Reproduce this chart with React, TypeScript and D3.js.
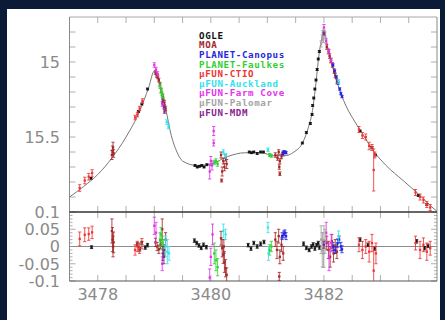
import React from "react";
import * as d3 from "d3";

// Light-curve model (HJD - 2450000, I mag)
const MODEL: [number, number][] = [
  [3477.5, 15.9], [3477.75, 15.83], [3478.0, 15.75], [3478.25, 15.64], [3478.5, 15.5],
  [3478.75, 15.32], [3478.9, 15.17], [3479.0, 15.06], [3479.1, 15.15], [3479.2, 15.31],
  [3479.3, 15.49], [3479.4, 15.6], [3479.5, 15.66], [3479.75, 15.69], [3480.0, 15.68],
  [3480.3, 15.63], [3480.6, 15.605], [3480.9, 15.605], [3481.1, 15.625], [3481.3, 15.625],
  [3481.47, 15.6], [3481.62, 15.54], [3481.73, 15.43], [3481.79, 15.34], [3481.85, 15.17],
  [3481.91, 14.96], [3481.97, 14.83], [3482.0, 14.79], [3482.06, 14.89], [3482.12, 14.98],
  [3482.17, 15.05], [3482.23, 15.13], [3482.3, 15.21], [3482.4, 15.3], [3482.55, 15.4],
  [3482.7, 15.49], [3482.85, 15.58], [3483.1, 15.69], [3483.4, 15.79], [3483.7, 15.89],
  [3483.95, 15.98], [3484.0, 15.995],
];

// [time, mag, error]
const OGLE_LC = [
  [3477.88, 15.775, 0.006], [3478.72, 15.33, 0.006], [3478.78, 15.28, 0.006], [3478.88, 15.18, 0.006],
  [3479.72, 15.69, 0.006], [3479.76, 15.7, 0.006], [3479.8, 15.695, 0.006], [3479.84, 15.69, 0.006],
  [3479.88, 15.7, 0.006], [3479.93, 15.685, 0.006],
  [3480.68, 15.6, 0.006], [3480.72, 15.605, 0.006], [3480.76, 15.6, 0.006], [3480.82, 15.61, 0.006],
  [3480.88, 15.6, 0.006], [3480.93, 15.6, 0.006],
  [3481.62, 15.54, 0.006], [3481.69, 15.47, 0.006], [3481.76, 15.41, 0.006], [3481.79, 15.35, 0.006],
  [3481.8, 15.29, 0.006], [3481.82, 15.24, 0.006], [3481.84, 15.18, 0.006], [3481.86, 15.12, 0.006],
  [3481.88, 15.05, 0.006], [3481.9, 14.98, 0.006], [3481.92, 14.93, 0.006],
  [3482.64, 15.46, 0.006], [3482.85, 15.57, 0.006], [3482.91, 15.62, 0.006],
  [3483.67, 15.89, 0.006], [3483.82, 15.95, 0.006],
];
const MOA_LC = [
  [3478.25, 15.62, 0.03], [3478.26, 15.59, 0.03], [3478.27, 15.57, 0.035], [3478.28, 15.61, 0.025],
  [3479.02, 15.07, 0.012], [3479.04, 15.09, 0.012], [3479.06, 15.1, 0.012], [3479.08, 15.12, 0.012],
  [3479.1, 15.15, 0.012], [3479.12, 15.19, 0.015], [3479.15, 15.23, 0.015], [3479.18, 15.27, 0.015],
  [3479.2, 15.31, 0.015],
  [3480.18, 15.62, 0.02], [3480.2, 15.73, 0.03], [3480.22, 15.66, 0.02], [3480.24, 15.7, 0.025],
  [3480.26, 15.64, 0.02], [3480.28, 15.68, 0.03], [3480.19, 15.79, 0.01],
  [3481.14, 15.62, 0.015], [3481.18, 15.64, 0.015], [3481.2, 15.6, 0.015], [3481.22, 15.66, 0.015],
  [3481.25, 15.63, 0.015], [3481.28, 15.61, 0.015], [3481.21, 15.7, 0.015], [3481.22, 15.745, 0.012],
  [3482.05, 14.9, 0.015], [3482.08, 14.93, 0.015], [3482.1, 14.96, 0.015], [3482.12, 14.99, 0.015],
  [3482.15, 15.02, 0.015], [3482.18, 15.06, 0.015], [3482.2, 15.09, 0.015], [3482.23, 15.13, 0.015],
];
const CANOPUS_LC = [
  [3481.27, 15.61, 0.008], [3481.29, 15.6, 0.008], [3481.31, 15.6, 0.008], [3481.33, 15.605, 0.008],
  [3482.16, 15.02, 0.008], [3482.19, 15.06, 0.008], [3482.22, 15.1, 0.008], [3482.25, 15.14, 0.008],
  [3482.28, 15.18, 0.008], [3482.3, 15.21, 0.008], [3482.32, 15.23, 0.008],
];
const FAULKES_LC = [
  [3479.1, 15.16, 0.015], [3479.12, 15.19, 0.015], [3479.13, 15.21, 0.015], [3479.14, 15.22, 0.015],
  [3479.16, 15.25, 0.015],
  [3480.06, 15.67, 0.015], [3480.09, 15.66, 0.015], [3480.12, 15.68, 0.015],
  [3481.04, 15.62, 0.01], [3481.07, 15.625, 0.01],
];
const CTIO_LC = [
  [3477.68, 15.84, 0.022], [3477.77, 15.79, 0.022], [3477.84, 15.765, 0.022], [3477.9, 15.74, 0.022],
  [3478.66, 15.37, 0.015], [3478.7, 15.35, 0.015], [3478.74, 15.31, 0.015], [3478.79, 15.26, 0.015],
  [3482.62, 15.45, 0.02], [3482.68, 15.49, 0.02], [3482.74, 15.5, 0.02], [3482.8, 15.56, 0.025],
  [3482.85, 15.57, 0.02], [3482.88, 15.72, 0.14], [3482.9, 15.62, 0.02],
  [3483.62, 15.87, 0.02], [3483.7, 15.9, 0.02], [3483.76, 15.92, 0.02], [3483.82, 15.95, 0.02],
  [3483.88, 15.97, 0.02],
];
const AUCKLAND_LC = [
  [3479.22, 15.4, 0.015], [3479.25, 15.43, 0.015],
  [3480.22, 15.6, 0.015], [3480.26, 15.625, 0.015],
  [3481.01, 15.585, 0.012], [3482.26, 15.13, 0.012],
];
const FARMCOVE_LC = [
  [3479.0, 15.02, 0.015], [3479.03, 15.05, 0.015], [3479.06, 15.08, 0.015], [3479.14, 15.28, 0.015],
  [3479.98, 15.73, 0.05], [3480.0, 15.66, 0.03], [3480.02, 15.69, 0.03], [3480.05, 15.46, 0.03],
  [3480.05, 15.54, 0.02],
  [3482.0, 14.77, 0.02], [3482.04, 14.86, 0.015], [3482.09, 14.93, 0.015], [3482.13, 14.99, 0.015],
];
const PALOMAR_LC = [
  [3481.95, 14.88, 0.02], [3481.97, 14.84, 0.02], [3481.98, 14.81, 0.02], [3481.99, 14.85, 0.02],
  [3482.0, 14.8, 0.02], [3482.02, 14.82, 0.02],
];
const MDM_LC = [
  [3479.15, 15.26, 0.012], [3479.17, 15.3, 0.012], [3479.18, 15.33, 0.012], [3482.0, 14.81, 0.01],
];

// [time, residual, error]
const OGLE_RES = [
  [3477.89, -0.002, 0.004],
  [3478.7, 0.006, 0.005], [3478.74, -0.008, 0.005], [3478.78, 0.01, 0.005], [3478.84, -0.003, 0.005],
  [3478.88, 0.004, 0.005],
  [3479.71, 0.017, 0.005], [3479.75, 0.01, 0.005], [3479.79, 0.003, 0.005], [3479.83, -0.004, 0.005],
  [3479.87, 0.005, 0.005], [3479.92, -0.002, 0.005],
  [3480.66, 0.004, 0.005], [3480.71, -0.006, 0.005], [3480.76, 0.01, 0.005], [3480.82, 0.0, 0.005],
  [3480.88, 0.008, 0.005], [3480.94, 0.013, 0.005],
  [3481.64, 0.008, 0.005], [3481.69, -0.004, 0.005], [3481.74, -0.01, 0.005], [3481.78, 0.0, 0.005],
  [3481.81, 0.006, 0.005], [3481.84, -0.006, 0.005], [3481.87, 0.004, 0.005], [3481.9, 0.01, 0.005],
  [3481.92, -0.003, 0.005],
  [3482.64, 0.02, 0.005], [3482.78, 0.005, 0.005], [3482.9, -0.006, 0.005],
  [3483.64, 0.015, 0.005], [3483.78, -0.005, 0.005], [3483.84, 0.002, 0.005],
];
const MOA_RES = [
  [3478.25, 0.045, 0.035], [3478.26, 0.02, 0.035], [3478.27, 0.0, 0.03], [3478.28, 0.012, 0.03],
  [3479.02, 0.012, 0.012], [3479.05, 0.0, 0.012], [3479.08, -0.008, 0.012], [3479.11, 0.005, 0.012],
  [3479.14, 0.05, 0.03], [3479.17, -0.01, 0.015], [3479.2, 0.02, 0.02],
  [3480.18, 0.024, 0.02], [3480.2, -0.005, 0.025], [3480.22, -0.024, 0.025], [3480.24, -0.045, 0.03],
  [3480.26, -0.063, 0.025], [3480.28, -0.082, 0.02], [3480.23, 0.0, 0.02],
  [3481.14, 0.02, 0.02], [3481.17, -0.01, 0.025], [3481.2, 0.03, 0.02], [3481.22, -0.03, 0.02],
  [3481.25, 0.005, 0.02], [3481.28, -0.02, 0.02], [3481.21, -0.087, 0.012],
  [3482.05, 0.01, 0.02], [3482.08, -0.01, 0.025], [3482.11, -0.03, 0.03], [3482.14, 0.015, 0.02],
  [3482.17, -0.02, 0.025], [3482.2, 0.0, 0.02], [3482.23, -0.015, 0.02],
];
const CANOPUS_RES = [
  [3481.26, 0.03, 0.01], [3481.29, 0.035, 0.01], [3481.31, 0.04, 0.008], [3481.33, 0.03, 0.01],
  [3482.16, 0.0, 0.012], [3482.2, -0.01, 0.01], [3482.24, 0.01, 0.012], [3482.27, 0.02, 0.01],
  [3482.3, 0.0, 0.012], [3482.32, -0.008, 0.01],
];
const FAULKES_RES = [
  [3479.1, 0.02, 0.02], [3479.12, 0.035, 0.02], [3479.14, 0.01, 0.02], [3479.16, 0.0, 0.02],
  [3480.06, -0.02, 0.03], [3480.09, -0.04, 0.03], [3480.12, -0.06, 0.025],
  [3481.04, -0.01, 0.015], [3481.07, 0.0, 0.015],
];
const CTIO_RES = [
  [3477.68, 0.022, 0.02], [3477.77, 0.034, 0.02], [3477.84, 0.036, 0.018], [3477.9, 0.041, 0.018],
  [3478.66, -0.01, 0.015], [3478.7, 0.0, 0.015], [3478.74, -0.005, 0.015], [3478.78, 0.008, 0.015],
  [3482.62, 0.005, 0.02], [3482.68, -0.01, 0.025], [3482.74, 0.0, 0.02], [3482.8, -0.015, 0.03],
  [3482.85, 0.01, 0.025], [3482.88, -0.07, 0.07], [3482.92, -0.02, 0.03],
  [3483.62, 0.01, 0.02], [3483.7, -0.01, 0.025], [3483.76, 0.005, 0.02], [3483.82, -0.015, 0.025],
  [3483.88, -0.005, 0.02],
];
const AUCKLAND_RES = [
  [3479.2, 0.0, 0.03], [3479.23, -0.015, 0.035], [3479.26, -0.02, 0.02],
  [3480.22, 0.045, 0.02], [3480.26, 0.035, 0.015],
  [3481.01, 0.055, 0.015], [3481.02, -0.02, 0.02], [3482.26, 0.03, 0.015],
];
const FARMCOVE_RES = [
  [3479.0, 0.06, 0.025], [3479.03, 0.04, 0.03], [3479.14, -0.05, 0.02],
  [3479.98, -0.09, 0.025], [3480.0, -0.03, 0.025], [3480.03, 0.035, 0.03],
  [3482.04, 0.04, 0.03], [3482.09, -0.03, 0.04], [3482.13, 0.01, 0.025],
];
const PALOMAR_RES = [
  [3481.95, 0.02, 0.04], [3481.97, -0.01, 0.05], [3481.98, 0.01, 0.03], [3481.99, -0.02, 0.04],
  [3482.0, 0.0, 0.06], [3482.02, 0.015, 0.035],
];
const MDM_RES = [
  [3479.15, -0.02, 0.02], [3479.17, -0.03, 0.02], [3482.0, 0.005, 0.01],
];

const SERIES_NAMES = [
  "OGLE", "MOA", "PLANET-Canopus", "PLANET-Faulkes", "\u03bcFUN-CTIO",
  "\u03bcFUN-Auckland", "\u03bcFUN-Farm Cove", "\u03bcFUN-Palomar", "\u03bcFUN-MDM",
];
const SERIES_COLORS = [
  "#111111", "#a52828", "#2626e0", "#33d033", "#ee3434",
  "#33e2ea", "#e234ea", "#a4a4a4", "#8a248e",
];
const SERIES_LC = [OGLE_LC, MOA_LC, CANOPUS_LC, FAULKES_LC, CTIO_LC, AUCKLAND_LC, FARMCOVE_LC, PALOMAR_LC, MDM_LC];
const SERIES_RES = [OGLE_RES, MOA_RES, CANOPUS_RES, FAULKES_RES, CTIO_RES, AUCKLAND_RES, FARMCOVE_RES, PALOMAR_RES, MDM_RES];

const X_LABELS = [3478, 3480, 3482];
const MAG_LABELS = [15, 15.5];
const RES_LABELS = [0.1, 0.05, 0, -0.05, -0.1];

const W = 445;
const H = 320;
const L = 69.5, R = 437, T = 17, MID = 212, B = 281;

const x = d3.scaleLinear().domain([3477.5, 3484]).range([L, R]);
const yMag = d3.scaleLinear().domain([14.7, 16.0]).range([T, MID]);
const yRes = d3.scaleLinear().domain([-0.1, 0.1]).range([B, MID]);

const LABEL_FONT = "'DejaVu Sans', sans-serif";
const LEGEND_FONT = "'DejaVu Sans Mono', monospace";
const AXIS_GREY = "#9a9a9a";

function Points({ data, y, color, clip }: { data: number[][]; y: d3.ScaleLinear<number, number>; color: string; clip: string }) {
  const cap = 1.6;
  const s = 2.3;
  return (
    <g clipPath={`url(#${clip})`} stroke={color} fill={color} strokeWidth={0.85}>
      {data.map(([t, v, e], i) => {
        const cx = x(t);
        const y1 = y(v - e);
        const y2 = y(v + e);
        return (
          <g key={i}>
            <line x1={cx} x2={cx} y1={y1} y2={y2} />
            <line x1={cx - cap} x2={cx + cap} y1={y1} y2={y1} />
            <line x1={cx - cap} x2={cx + cap} y1={y2} y2={y2} />
            <rect x={cx - s / 2} y={y(v) - s / 2} width={s} height={s} stroke="none" />
          </g>
        );
      })}
    </g>
  );
}

export default function App() {
  const modelLine = d3
    .line<[number, number]>()
    .x((d) => x(d[0]))
    .y((d) => yMag(d[1]))
    .curve(d3.curveMonotoneX)(MODEL) as string;

  const dayTicks = d3.range(3478, 3484, 0.5);
  const magTicks = d3.range(14.8, 15.95, 0.1);
  const resTicks = d3.range(-10, 11, 1).map((k) => k / 100);

  return (
    <svg width={W} height={H} style={{ position: "fixed", left: 0, top: 0 }}>
      <defs>
        <clipPath id="clipTop">
          <rect x={L} y={T} width={R - L} height={MID - T} />
        </clipPath>
        <clipPath id="clipRes">
          <rect x={L} y={MID} width={R - L} height={B - MID} />
        </clipPath>
      </defs>
      <rect x={0} y={0} width={W} height={H} fill="#0b1a36" />
      <rect x={7} y={9} width={433} height={311} fill="#ffffff" />

      {/* tick marks */}
      <g stroke={AXIS_GREY} strokeWidth={0.8}>
        {dayTicks.map((t) => (
          <g key={t}>
            <line x1={x(t)} x2={x(t)} y1={T} y2={T + 6} />
            <line x1={x(t)} x2={x(t)} y1={MID} y2={MID - 6} />
            <line x1={x(t)} x2={x(t)} y1={MID} y2={MID + 6} />
            <line x1={x(t)} x2={x(t)} y1={B} y2={B - 6} />
          </g>
        ))}
        {magTicks.map((m) => (
          <g key={m}>
            <line x1={L} x2={L + 6} y1={yMag(m)} y2={yMag(m)} />
            <line x1={R} x2={R - 6} y1={yMag(m)} y2={yMag(m)} />
          </g>
        ))}
        {resTicks.map((r) => {
          const major = Math.abs(Math.round(r * 100)) % 5 === 0;
          const len = major ? 6 : 3;
          return (
            <g key={r}>
              <line x1={L} x2={L + len} y1={yRes(r)} y2={yRes(r)} />
              <line x1={R} x2={R - len} y1={yRes(r)} y2={yRes(r)} />
            </g>
          );
        })}
      </g>

      {/* frame */}
      <g fill="none">
        <line x1={L} x2={R} y1={T} y2={T} stroke="#a8a8a8" strokeWidth={1} />
        <line x1={L} x2={L} y1={T} y2={B} stroke="#8a8a8a" strokeWidth={1} />
        <line x1={R} x2={R} y1={T} y2={B} stroke="#8a8a8a" strokeWidth={1} />
        <line x1={L} x2={R} y1={MID} y2={MID} stroke="#333333" strokeWidth={1.4} />
        <line x1={L} x2={R} y1={B} y2={B} stroke="#555555" strokeWidth={1.2} />
        <line x1={L} x2={R} y1={yRes(0)} y2={yRes(0)} stroke="#8c8c8c" strokeWidth={1} />
      </g>

      {/* model */}
      <path d={modelLine} fill="none" stroke="#777777" strokeWidth={1} clipPath="url(#clipTop)" />

      {SERIES_LC.map((data, i) => (
        <Points key={`lc${i}`} data={data} y={yMag} color={SERIES_COLORS[i]} clip="clipTop" />
      ))}
      {SERIES_RES.map((data, i) => (
        <Points key={`res${i}`} data={data} y={yRes} color={SERIES_COLORS[i]} clip="clipRes" />
      ))}

      {/* legend */}
      <g fontFamily={LEGEND_FONT} fontWeight="bold" fontSize={9.2} letterSpacing={0.6}>
        {SERIES_NAMES.map((name, i) => (
          <text key={name} x={199} y={38.8 + i * 9.6} fill={SERIES_COLORS[i]}>
            {name}
          </text>
        ))}
      </g>

      {/* axis labels */}
      <g fontFamily={LABEL_FONT} fontSize={16} fill="#8a8a8a">
        {X_LABELS.map((t) => (
          <text key={t} x={x(t)} y={300} textAnchor="middle">
            {t}
          </text>
        ))}
        {MAG_LABELS.map((m) => (
          <text key={m} x={60} y={yMag(m)} dy="0.36em" textAnchor="end">
            {m}
          </text>
        ))}
        {RES_LABELS.map((r) => (
          <text key={r} x={60} y={yRes(r)} dy="0.36em" textAnchor="end">
            {r === 0 ? "0" : String(r)}
          </text>
        ))}
      </g>
    </svg>
  );
}
